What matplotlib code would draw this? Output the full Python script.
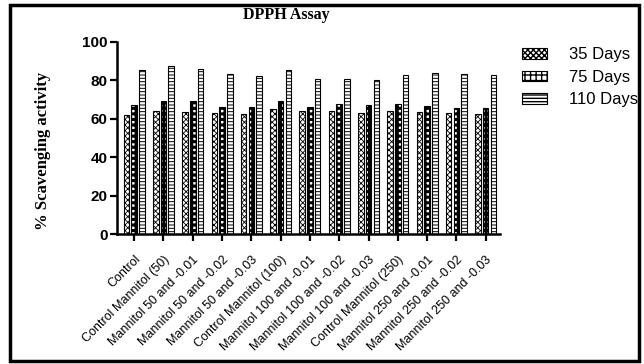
import matplotlib
matplotlib.use('Agg')
import matplotlib.pyplot as plt
import matplotlib.transforms as mtransforms
import numpy as np
from matplotlib.patches import Rectangle

# treatment groups on the x axis
grupe = ['Control', 'Control Mannitol (50)', 'Mannitol 50 and -0.01',
         'Mannitol 50 and -0.02', 'Mannitol 50 and -0.03', 'Control Mannitol (100)',
         'Mannitol 100 and -0.01', 'Mannitol 100 and -0.02', 'Mannitol 100 and -0.03',
         'Control Mannitol (250)', 'Mannitol 250 and -0.01', 'Mannitol 250 and -0.02',
         'Mannitol 250 and -0.03']

# % scavenging activity for each storage time
dni_35 = [62.0, 63.9, 63.4, 62.8, 62.7, 65.1, 63.9, 63.9, 63.0, 64.2, 63.4, 62.8, 62.7]
dni_75 = [67.0, 69.1, 69.1, 66.0, 66.1, 69.1, 66.0, 67.7, 67.2, 67.7, 66.5, 65.6, 65.5]
dni_110 = [85.1, 87.2, 86.1, 83.2, 82.3, 85.1, 80.9, 80.7, 80.4, 82.5, 83.7, 83.2, 82.8]

serije = [('35 Days', dni_35, 'xxxxxx', 0.6),
          ('75 Days', dni_75, '+++', 2.2),
          ('110 Days', dni_110, '-----', 0.7)]

fig = plt.figure(figsize=(6.44, 3.64), dpi=100)
ax = fig.add_axes([0.182, 0.357, 0.594, 0.528])

x = np.arange(len(grupe))
sirina = 0.19
razmik = 0.265
for i, (ime, vrednosti, vzorec, debelina) in enumerate(serije):
    with plt.rc_context({'hatch.linewidth': debelina}):
        ax.bar(x + (i - 1) * razmik, vrednosti, width=sirina, color='white',
               edgecolor='black', linewidth=0.8, hatch=vzorec, label=ime)

ax.set_xlim(-0.58, 12.48)
ax.set_ylim(0, 100)
ax.set_yticks([0, 20, 40, 60, 80, 100])
ax.set_xticks(x)
ax.set_xticklabels(grupe, rotation=45, ha='right', va='top', rotation_mode='anchor',
                   fontsize=9, family='Liberation Sans')
# malo zamakni oznake v desno
zamik = mtransforms.ScaledTranslation(5 / 100, 0, fig.dpi_scale_trans)
for lbl in ax.get_xticklabels():
    lbl.set_transform(lbl.get_transform() + zamik)
for lbl in ax.get_yticklabels():
    lbl.set_fontweight('bold')
    lbl.set_family('Liberation Sans')
    lbl.set_fontsize(11)

for s in ['top', 'right']:
    ax.spines[s].set_visible(False)
for s in ['left', 'bottom']:
    ax.spines[s].set_linewidth(1.8)
ax.tick_params(axis='both', length=5, width=1.6, direction='out')
ax.tick_params(axis='x', pad=9)
ax.tick_params(axis='y', pad=2)

ax.set_ylabel('% Scavenging activity', family='Liberation Serif',
              fontweight='bold', fontsize=12)
ax.yaxis.set_label_coords(-0.172, 0.43)

fig.text(0.444, 0.958, 'DPPH Assay', ha='center', va='center',
         family='Liberation Serif', fontweight='bold', fontsize=11.5)

leg = ax.legend(loc='upper left', bbox_to_anchor=(1.02, 1.05), frameon=False,
                prop={'family': 'Liberation Sans', 'size': 12},
                handlelength=1.5, handleheight=0.6, handletextpad=1.3,
                labelspacing=0.45)

# okvir okoli celotne slike
fig.patches.append(Rectangle((0.015, 0.008), 0.978, 0.978, transform=fig.transFigure,
                             fill=False, edgecolor='black', linewidth=2.5))

fig.savefig('out.png', dpi=100)
